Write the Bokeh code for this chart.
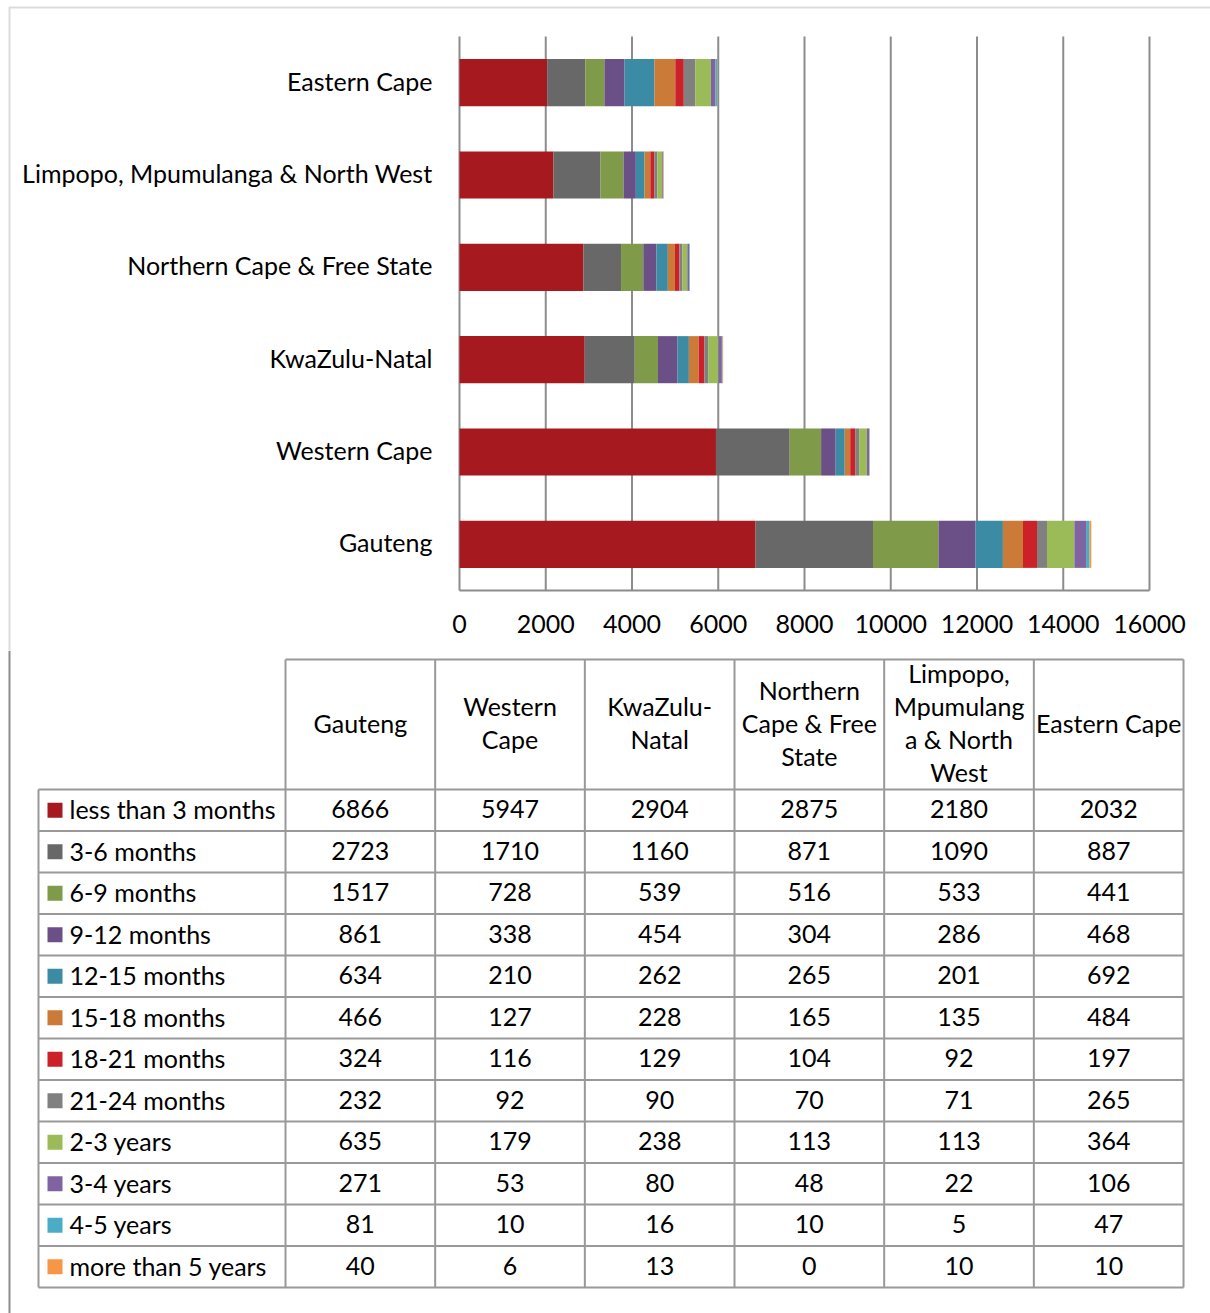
from bokeh.plotting import figure
from bokeh.models import ColumnDataSource, Range1d, BoxAnnotation
from bokeh.layouts import column
from bokeh.embed import file_html
from bokeh.resources import INLINE
from bokeh.core.properties import value

# ---------------- data ----------------
regions = ["Gauteng", "Western Cape", "KwaZulu-Natal", "Northern Cape & Free State",
           "Limpopo, Mpumulanga & North West", "Eastern Cape"]
region_headers = ["Gauteng", "Western\nCape", "KwaZulu-\nNatal", "Northern\nCape & Free\nState",
                  "Limpopo,\nMpumulang\na & North\nWest", "Eastern Cape"]
series_names = ["less than 3 months", "3-6 months", "6-9 months", "9-12 months",
                "12-15 months", "15-18 months", "18-21 months", "21-24 months",
                "2-3 years", "3-4 years", "4-5 years", "more than 5 years"]
less_than_3_months = [6866, 5947, 2904, 2875, 2180, 2032]
months_3_6 = [2723, 1710, 1160, 871, 1090, 887]
months_6_9 = [1517, 728, 539, 516, 533, 441]
months_9_12 = [861, 338, 454, 304, 286, 468]
months_12_15 = [634, 210, 262, 265, 201, 692]
months_15_18 = [466, 127, 228, 165, 135, 484]
months_18_21 = [324, 116, 129, 104, 92, 197]
months_21_24 = [232, 92, 90, 70, 71, 265]
years_2_3 = [635, 179, 238, 113, 113, 364]
years_3_4 = [271, 53, 80, 48, 22, 106]
years_4_5 = [81, 10, 16, 10, 5, 47]
more_than_5_years = [40, 6, 13, 0, 10, 10]
series_values = [less_than_3_months, months_3_6, months_6_9, months_9_12, months_12_15,
                 months_15_18, months_18_21, months_21_24, years_2_3, years_3_4,
                 years_4_5, more_than_5_years]
x_ticks = [0, 2000, 4000, 6000, 8000, 10000, 12000, 14000, 16000]
x_tick_labels = ["0", "2000", "4000", "6000", "8000", "10000", "12000", "14000", "16000"]

colors = ["#A6191E", "#686868", "#7F9A48", "#6A5087", "#3B8BA5", "#CC7A38",
          "#CC2128", "#808080", "#9BBB59", "#8064A2", "#4BACC6", "#F79646"]

FONT = "Lato"
FS = "25px"
GRID = "#8c8c8c"
TABLE_LINE = "#999999"

# ---------------- top: stacked bar chart ----------------
W = 1210
H1 = 650
PLOT_L, PLOT_R = 459, 1149     # pixel extent of the value axis 0..16000
PLOT_T, PLOT_B = 36, 590       # pixel extent of the category bands
XMAX = x_ticks[-1]
ppu = (PLOT_R - PLOT_L) / XMAX
band = (PLOT_B - PLOT_T) / len(regions)
n_cat = len(regions)

y_pos = [i + 0.5 for i in range(n_cat)]
data = {"region": regions, "ypos": y_pos}
for n, v in zip(series_names, series_values):
    data[n] = v
src = ColumnDataSource(data)

p = figure(width=W, height=H1, output_backend="svg", toolbar_location=None,
           x_range=Range1d(-PLOT_L / ppu, (W - PLOT_L) / ppu),
           y_range=Range1d(-(H1 - PLOT_B) / band, PLOT_B / band),
           min_border=0, min_border_left=0, min_border_right=0,
           min_border_top=0, min_border_bottom=0,
           x_axis_location=None, y_axis_location=None)
p.grid.visible = False
p.outline_line_color = None
p.background_fill_color = "white"
p.border_fill_color = "white"

# vertical gridlines (the one at 0 doubles as the category axis line)
p.segment(x0=x_ticks, y0=[0] * len(x_ticks), x1=x_ticks, y1=[n_cat] * len(x_ticks),
          line_color=GRID, line_width=2)
# value axis line
p.segment(x0=[0], y0=[0], x1=[XMAX], y1=[0], line_color=GRID, line_width=2)

p.hbar_stack(series_names, y="ypos", height=0.51, color=colors, source=src,
             line_width=0)

# category labels
p.text(x=[0] * n_cat, y=y_pos, text=regions, x_offset=-27, y_offset=-2,
       text_font=value(FONT), text_font_size=FS, text_align="right",
       text_baseline="middle", text_color="black")

# value-axis tick labels
tick_y = -33 / band
p.text(x=x_ticks, y=[tick_y] * len(x_ticks), text=x_tick_labels,
       text_font=value(FONT), text_font_size=FS, text_align="center",
       text_baseline="middle", text_color="black")

# outer chart-area border (top and left edges)
p.add_layout(BoxAnnotation(left=9, right=1400, top=7, bottom=2000,
                           left_units="canvas", right_units="canvas",
                           top_units="canvas", bottom_units="canvas",
                           fill_alpha=0, line_color=GRID, line_width=2))

# ---------------- bottom: data table ----------------
H2 = 1313 - H1
OFF = H1
t = figure(width=W, height=H2, output_backend="svg", toolbar_location=None,
           x_range=Range1d(0, W), y_range=Range1d(H2, 0),
           min_border=0, min_border_left=0, min_border_right=0,
           min_border_top=0, min_border_bottom=0,
           x_axis_location=None, y_axis_location=None)
t.grid.visible = False
t.outline_line_color = None
t.background_fill_color = "white"
t.border_fill_color = "white"

# outer border continued
t.segment(x0=[9], y0=[0], x1=[9], y1=[H2], line_color=GRID, line_width=2)

col_x = [285 + i * 149.67 for i in range(7)]
head_top = 659 - OFF
row_top = 789 - OFF
row_h = 41.5
n_rows = len(series_names)
table_bottom = row_top + n_rows * row_h
left_x = 38

xs0, ys0, xs1, ys1 = [], [], [], []
xs0.append(col_x[0]); ys0.append(head_top); xs1.append(col_x[-1]); ys1.append(head_top)
for k in range(n_rows + 1):
    y = row_top + k * row_h
    xs0.append(left_x); ys0.append(y); xs1.append(col_x[-1]); ys1.append(y)
xs0.append(left_x); ys0.append(row_top); xs1.append(left_x); ys1.append(table_bottom)
for cx in col_x:
    xs0.append(cx); ys0.append(head_top); xs1.append(cx); ys1.append(table_bottom)
t.segment(x0=xs0, y0=ys0, x1=xs1, y1=ys1, line_color=TABLE_LINE, line_width=2)

centers = [(col_x[i] + col_x[i + 1]) / 2 for i in range(6)]
t.text(x=centers, y=[(head_top + row_top) / 2 - 2] * 6, text=region_headers,
       text_font=value(FONT), text_font_size=FS, text_align="center",
       text_baseline="middle", text_color="black", text_line_height=1.1)

row_c = [row_top + (k + 0.5) * row_h for k in range(n_rows)]
t.rect(x=[54.5] * n_rows, y=row_c, width=15, height=15, fill_color=colors,
       line_color=None)
t.text(x=[69] * n_rows, y=[c - 1 for c in row_c], text=series_names,
       text_font=value(FONT), text_font_size=FS, text_align="left",
       text_baseline="middle", text_color="black")
vx, vy, vt = [], [], []
for k, vals in enumerate(series_values):
    for i, v in enumerate(vals):
        vx.append(centers[i]); vy.append(row_c[k] - 1); vt.append(str(v))
t.text(x=vx, y=vy, text=vt, text_font=value(FONT), text_font_size=FS,
       text_align="center", text_baseline="middle", text_color="black")

layout = column(p, t, spacing=0)
open("out.html", "w").write(file_html(layout, INLINE))
